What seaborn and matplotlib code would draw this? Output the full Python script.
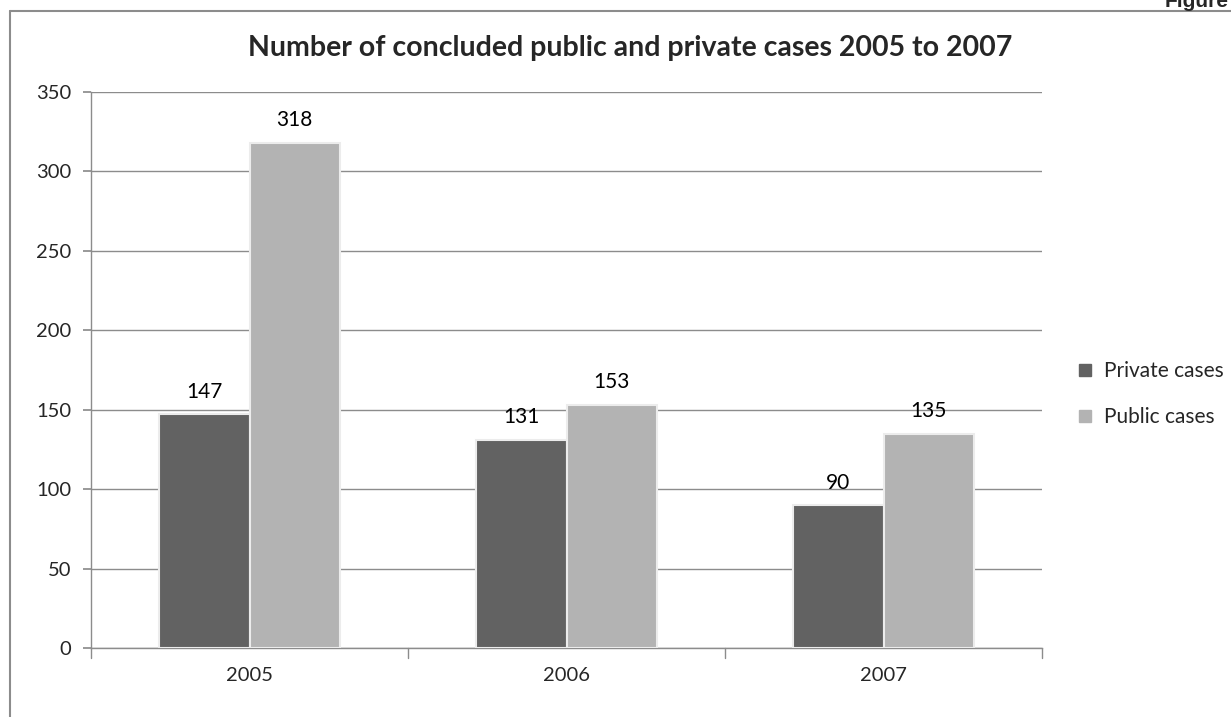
import matplotlib
matplotlib.use("Agg")
import matplotlib.pyplot as plt
import seaborn as sns
import pandas as pd
from matplotlib.lines import Line2D

# data
years = ["2005", "2006", "2007"]
private_cases = [147, 131, 90]
public_cases = [318, 153, 135]
series_names = ["Private cases", "Public cases"]

df = pd.DataFrame({
    "year": years * 2,
    "cases": private_cases + public_cases,
    "series": [series_names[0]] * 3 + [series_names[1]] * 3,
})

sns.set_theme(style="white")
plt.rcParams["font.family"] = ["Lato", "DejaVu Sans"]

fig = plt.figure(figsize=(12.31, 7.17), dpi=100)
ax = fig.add_axes([91 / 1231, 69 / 717, (1042 - 91) / 1231, (648 - 92) / 717])

pal = {"Private cases": "#626262", "Public cases": "#b3b3b3"}
sns.barplot(data=df, x="year", y="cases", hue="series", palette=pal,
            width=0.57, saturation=1, edgecolor="#ececec", linewidth=1.5,
            ax=ax, zorder=3)

for cont in ax.containers:
    ax.bar_label(cont, padding=9, fontsize=15, color="black")

ax.set_ylim(0, 350)
ax.set_yticks(range(0, 351, 50))
ax.set_xlim(-0.5, 2.5)
ax.yaxis.grid(True, color="#8c8c8c", linewidth=1, zorder=0)
ax.set_xlabel("")
ax.set_ylabel("")
for s in ["top", "right"]:
    ax.spines[s].set_visible(False)
for s in ["left", "bottom"]:
    ax.spines[s].set_color("#8c8c8c")
    ax.spines[s].set_linewidth(1)

ax.tick_params(axis="y", length=6, color="#8c8c8c", labelsize=14.5, pad=8, left=True)
ax.tick_params(axis="x", length=0, labelsize=14.5, pad=14)
# category boundary ticks like the original
for xb in [-0.5, 0.5, 1.5, 2.5]:
    ax.plot([xb, xb], [0, -0.018], transform=ax.get_xaxis_transform(),
            color="#8c8c8c", lw=1, clip_on=False)

ax.legend_.remove()
handles = [Line2D([], [], marker="s", ls="", markersize=8, color=pal[n]) for n in series_names]
fig.legend(handles, series_names, loc="center left", bbox_to_anchor=(1064 / 1231, 1 - 394 / 717),
           frameon=False, fontsize=15, handletextpad=0.4, labelspacing=1.25,
           borderpad=0, handlelength=1.0)

fig.text(630 / 1231, 1 - 48 / 717, "Number of concluded public and private cases 2005 to 2007",
         ha="center", va="center", fontsize=20.5, fontweight="bold")
fig.text(1229 / 1231, 1 - 7 / 717, "Figure", ha="right", va="baseline",
         fontsize=15, fontweight="bold", family=["Liberation Sans", "DejaVu Sans"])

# outer chart frame (left and top edges visible)
fig.add_artist(Line2D([10 / 1231, 10 / 1231], [0, 1 - 11 / 717], transform=fig.transFigure,
                      color="#8c8c8c", lw=1.5))
fig.add_artist(Line2D([10 / 1231, 1], [1 - 11 / 717, 1 - 11 / 717], transform=fig.transFigure,
                      color="#8c8c8c", lw=1.5))

fig.savefig("out.png", dpi=100)
